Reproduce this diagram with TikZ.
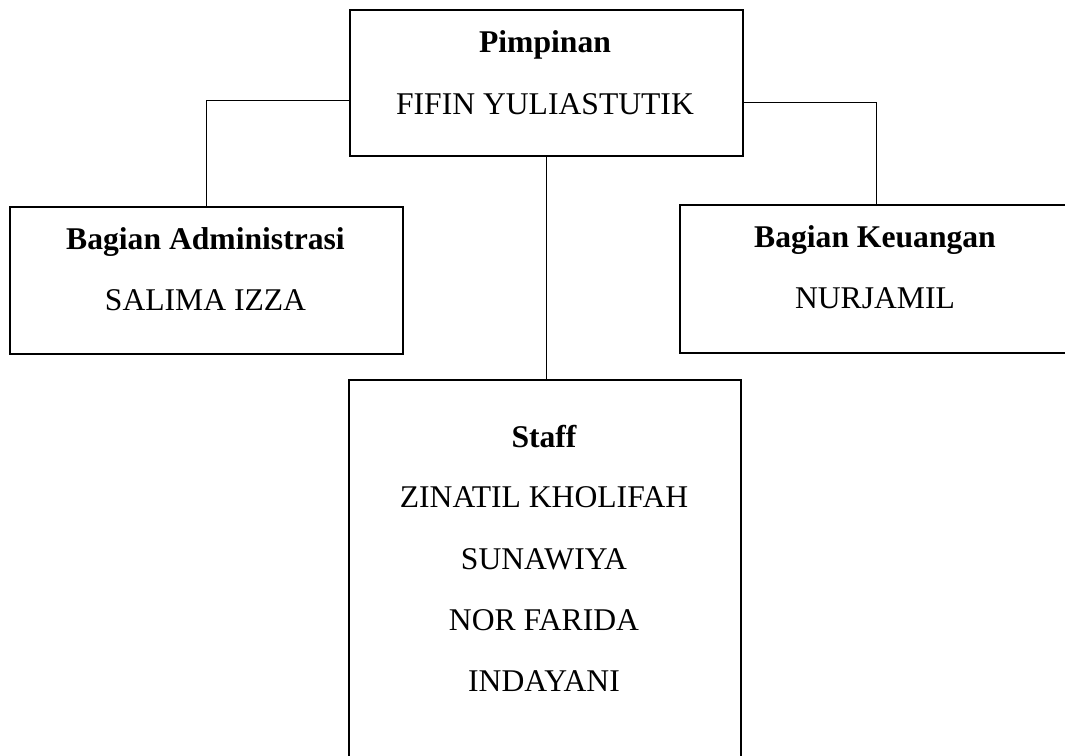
\documentclass[tikz,border=0pt]{standalone}
\usepackage{fontspec}
\setmainfont{Liberation Serif}
\usetikzlibrary{positioning,calc}

\begin{document}
\begin{tikzpicture}[x=0.02cm, y=-0.02cm, every node/.style={font=\fontsize{18}{22}\selectfont}]
\tikzset{unit/.style={draw, line width=1.3pt, anchor=north west, inner sep=0pt}}
\tikzset{role/.style={anchor=base, font=\fontsize{18}{22}\selectfont\bfseries}}
\tikzset{person/.style={anchor=base}}
\tikzset{link/.style={line width=0.6pt}}
\path[use as bounding box, clip] (0,0) rectangle (1065,755);
% boxes
\node[unit, minimum width=7.86cm, minimum height=2.92cm] (lead) at (349,9) {};
\node[unit, minimum width=7.86cm, minimum height=2.94cm] (admin) at (9,206) {};
\node[unit, minimum width=7.84cm, minimum height=2.96cm] (finance) at (679,204) {};
\node[unit, minimum width=7.84cm, minimum height=7.62cm] (staff) at (348,379) {};
% texts
\node[role] (leadrole) at (545,52) {Pimpinan};
\node[person] (leadname) at (545,114) {FIFIN YULIASTUTIK};
\node[role] (adminrole) at (205.5,249) {Bagian Administrasi};
\node[person] (adminname) at (205.5,310) {SALIMA IZZA};
\node[role] (financerole) at (875,247) {Bagian Keuangan};
\node[person] (financename) at (875,308) {NURJAMIL};
\node[role] (staffrole) at (544,447) {Staff};
\node[person] (staffa) at (544,507) {ZINATIL KHOLIFAH};
\node[person] (staffb) at (544,569) {SUNAWIYA};
\node[person] (staffc) at (544,630) {NOR FARIDA};
\node[person] (staffd) at (544,691) {INDAYANI};
% links
\draw[link] ($(lead.west)+(0,17)$) -| (admin.north);
\draw[link] ($(lead.east)+(0,19)$) -| (finance.north);
\draw[link] (lead.south) -- (lead.south |- staff.north);
\end{tikzpicture}
\end{document}
